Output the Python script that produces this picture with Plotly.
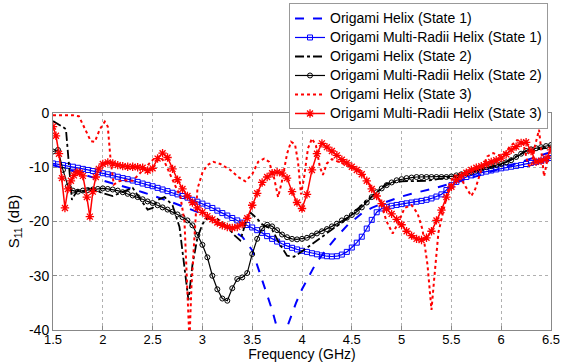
import numpy as np
import plotly.graph_objects as go

# ---------------- data ----------------
# Origami Helix (State 1) - blue dashed
x_h1 = [1.5, 1.6, 1.7, 1.8, 1.9, 2.0, 2.1, 2.2, 2.3, 2.4, 2.5, 2.6, 2.7, 2.8, 2.9, 3.0,
        3.1, 3.2, 3.3, 3.4, 3.5, 3.6, 3.7, 3.77, 3.85, 3.94, 4.0, 4.14, 4.25, 4.35, 4.46,
        4.6, 4.7, 4.8, 4.9, 5.0, 5.1, 5.2, 5.3, 5.4, 5.5, 5.6, 5.7, 5.8, 5.9, 6.0, 6.1,
        6.2, 6.3, 6.4, 6.5]
y_h1 = [-9.6, -10.1, -10.7, -11.3, -11.9, -12.4, -13.0, -13.5, -14.0, -14.6, -15.2, -15.8,
        -16.5, -17.2, -17.9, -18.6, -19.6, -20.6, -21.6, -22.8, -25.3, -30.8, -36.3, -41.0,
        -39.5, -35.0, -32.5, -27.7, -25.0, -22.8, -20.6, -18.5, -17.5, -16.7, -16.0, -15.4,
        -14.9, -14.5, -14.0, -13.5, -13.0, -12.5, -12.0, -11.4, -10.8, -10.2, -9.6, -9.0,
        -8.3, -7.7, -7.2]

# Origami Multi-Radii Helix (State 1) - blue squares
x_m1 = list(np.round(np.linspace(1.5, 6.5, 101), 2))
y_m1 = [-9.3, -9.45, -9.6, -9.75, -9.9, -10.1, -10.3, -10.5, -10.7, -10.9,
        -11.1, -11.3, -11.5, -11.75, -12.0, -12.2, -12.45, -12.7, -13.0, -13.25,
        -13.5, -13.8, -14.1, -14.4, -14.7, -15.0, -15.3, -15.6, -16.0, -16.35,
        -16.7, -17.1, -17.5, -18.0, -18.45, -18.9, -19.35, -19.8, -20.2, -20.65,
        -21.1, -21.6, -22.1, -22.7, -23.2, -23.7, -24.1, -24.5, -24.85, -25.15,
        -25.4, -25.6, -25.85, -26.05, -26.25, -26.4, -26.45, -26.4, -26.1, -25.6,
        -24.8, -23.9, -22.8, -21.3, -19.7, -18.3, -17.6, -17.3, -17.1, -16.95,
        -16.8, -16.65, -16.5, -16.35, -16.2, -16.0, -15.75, -15.4, -15.0, -14.2,
        -13.3, -12.7, -12.2, -11.8, -11.5, -11.2, -11.0, -10.8, -10.6, -10.4,
        -10.2, -10.05, -9.9, -9.75, -9.6, -9.4, -9.2, -9.0, -8.8, -8.55, -8.3]

# Origami Helix (State 2) - black dash-dot
x_h2 = [1.5, 1.55, 1.6, 1.63, 1.66, 1.69, 1.72, 1.75, 1.8, 1.85, 1.9, 2.0, 2.1, 2.2, 2.3,
        2.4, 2.45, 2.5, 2.55, 2.62, 2.7, 2.77, 2.82, 2.86, 2.9, 2.95, 3.0, 3.05, 3.15, 3.25,
        3.32, 3.38, 3.43, 3.48, 3.55, 3.6, 3.7, 3.78, 3.85, 3.92, 4.0, 4.15, 4.3, 4.45, 4.6,
        4.75, 4.85, 5.0, 5.25, 5.5, 5.75, 6.0, 6.25, 6.5]
y_h2 = [-1.5, -2.0, -2.6, -3.0, -10.0, -16.0, -15.0, -14.2, -14.5, -14.0, -14.0, -14.8,
        -15.3, -14.5, -13.8, -16.5, -17.8, -17.5, -16.0, -15.5, -17.0, -21.0, -28.0, -34.5,
        -28.0, -23.0, -20.5, -19.3, -19.5, -21.0, -22.5, -23.5, -20.5, -18.3, -19.5, -20.5,
        -21.5, -24.3, -26.3, -26.5, -25.5, -23.5, -21.5, -19.5, -17.0, -14.6, -13.0, -12.6,
        -12.5, -11.8, -10.7, -9.5, -7.0, -6.3]

# Origami Multi-Radii Helix (State 2) - black circles
x_m2 = list(np.round(np.linspace(1.5, 6.5, 101), 2))
y_m2 = [-7.1, -6.8, -10.5, -13.5, -14.3, -14.5, -14.3, -14.2, -14.1, -14.0,
        -13.9, -14.0, -14.1, -14.3, -14.6, -14.9, -15.2, -15.5, -15.9, -16.3,
        -16.6, -17.0, -17.4, -17.8, -18.2, -18.7, -19.2, -19.8, -20.7, -22.5,
        -24.3, -26.6, -30.0, -32.5, -34.2, -34.6, -32.3, -30.6, -30.3, -29.5,
        -26.0, -23.2, -21.3, -20.6, -20.9, -21.6, -22.4, -22.9, -23.2, -23.3,
        -23.2, -23.0, -22.6, -22.2, -21.8, -21.4, -20.9, -20.4, -19.8, -19.3,
        -18.8, -18.2, -17.4, -16.5, -15.5, -14.6, -13.9, -13.3, -12.8, -12.4,
        -12.2, -12.0, -11.9, -11.8, -11.8, -11.8, -11.8, -11.8, -11.8, -11.8,
        -11.7, -11.5, -11.3, -11.1, -10.9, -10.6, -10.3, -10.0, -9.8, -9.6,
        -9.4, -9.1, -8.7, -8.1, -7.5, -7.0, -6.7, -6.5, -6.3, -6.1, -5.9]

# Origami Helix (State 3) - red dotted
x_h3 = [1.5, 1.6, 1.7, 1.76, 1.82, 1.88, 1.92, 1.97, 2.02, 2.05, 2.08, 2.11, 2.16, 2.22,
        2.3, 2.37, 2.45, 2.52, 2.57, 2.62, 2.67, 2.72, 2.78, 2.82, 2.85, 2.87, 2.89, 2.92,
        2.95, 3.0, 3.05, 3.11, 3.18, 3.28, 3.36, 3.43, 3.5, 3.56, 3.62, 3.67, 3.72, 3.76,
        3.8, 3.85, 3.89, 3.93, 3.96, 3.99, 4.02, 4.06, 4.1, 4.14, 4.18, 4.21, 4.25, 4.3,
        4.4, 4.5, 4.58, 4.66, 4.72, 4.78, 4.85, 4.91, 4.96, 5.03, 5.1, 5.16, 5.21, 5.26,
        5.3, 5.33, 5.37, 5.42, 5.47, 5.52, 5.58, 5.64, 5.7, 5.74, 5.8, 5.86, 5.92, 5.98,
        6.04, 6.1, 6.16, 6.22, 6.27, 6.3, 6.34, 6.38, 6.41, 6.43, 6.46, 6.5]
y_h3 = [-0.4, -0.4, -0.4, -0.6, -2.8, -5.2, -5.3, -3.0, -1.6, -2.5, -9.0, -13.2, -12.6,
        -12.4, -12.5, -11.1, -9.5, -8.3, -8.0, -9.0, -11.1, -13.0, -15.5, -20.0, -32.0,
        -42.0, -32.0, -22.0, -14.0, -11.0, -9.6, -9.0, -9.4, -10.5, -11.8, -12.6, -11.3,
        -9.0, -8.4, -9.0, -12.0, -15.5, -12.5, -7.5, -5.3, -5.8, -9.0, -15.0, -12.0, -6.5,
        -4.7, -6.0, -10.0, -11.4, -9.3, -8.5, -9.3, -10.0, -10.6, -12.5, -14.5, -16.0,
        -20.0, -22.2, -20.5, -17.5, -17.0, -18.5, -21.5, -28.0, -36.3, -30.0, -22.0, -18.0,
        -14.0, -11.5, -11.5, -13.5, -15.3, -14.0, -10.5, -8.0, -7.4, -7.8, -7.3, -6.0,
        -5.0, -5.5, -9.5, -10.0, -6.0, -3.1, -8.0, -11.7, -9.0, -7.5]

# Origami Multi-Radii Helix (State 3) - red stars
x_m3 = [1.5, 1.53, 1.56, 1.59, 1.62, 1.65, 1.68, 1.71, 1.74, 1.77, 1.8, 1.84, 1.87, 1.9,
        1.93, 1.96, 2.0, 2.05, 2.1, 2.15, 2.2, 2.25, 2.3, 2.35, 2.4, 2.45, 2.5, 2.55, 2.6,
        2.65, 2.7, 2.75, 2.8, 2.85, 2.9, 2.95, 3.0, 3.05, 3.1, 3.15, 3.2, 3.25, 3.3, 3.35,
        3.4, 3.45, 3.5, 3.55, 3.6, 3.65, 3.7, 3.75, 3.8, 3.85, 3.9, 3.95, 4.0, 4.05, 4.1,
        4.15, 4.2, 4.25, 4.3, 4.35, 4.4, 4.45, 4.5, 4.55, 4.6, 4.65, 4.7, 4.75, 4.8, 4.85,
        4.9, 4.95, 5.0, 5.05, 5.1, 5.15, 5.2, 5.25, 5.3, 5.35, 5.4, 5.45, 5.5, 5.55, 5.6,
        5.65, 5.7, 5.75, 5.8, 5.85, 5.9, 5.95, 6.0, 6.05, 6.1, 6.15, 6.2, 6.25, 6.3, 6.35,
        6.4, 6.45, 6.5]
y_m3 = [-2.5, -4.2, -7.5, -12.0, -17.5, -14.0, -12.5, -11.5, -10.9, -11.0, -11.6, -15.5,
        -19.1, -14.5, -11.8, -10.3, -9.4, -9.1, -9.3, -9.6, -9.8, -9.9, -9.9, -10.0, -10.1,
        -10.6, -10.2, -8.4, -7.4, -8.2, -10.3, -12.3, -14.0, -15.3, -16.5, -17.5, -18.3,
        -19.0, -19.6, -20.2, -20.7, -21.0, -21.2, -21.0, -20.5, -19.4, -17.0, -14.8, -12.8,
        -11.8, -11.1, -10.9, -11.1, -12.0, -14.5, -16.5, -17.6, -15.0, -10.5, -7.5, -5.6,
        -6.3, -7.0, -7.8, -8.6, -9.2, -9.9, -10.5, -11.3, -12.5, -14.0, -15.3, -16.7, -17.7,
        -18.6, -19.6, -20.6, -21.8, -22.6, -23.2, -23.4, -23.0, -21.8, -19.8, -17.9, -15.5,
        -13.6, -12.3, -11.6, -11.0, -10.5, -10.1, -9.8, -9.4, -9.0, -8.7, -8.3, -7.6, -6.8,
        -6.2, -5.5, -5.4, -7.0, -9.0, -8.8, -8.4, -6.8]

x_ticks = [1.5, 2, 2.5, 3, 3.5, 4, 4.5, 5, 5.5, 6, 6.5]
x_ticktext = ["1.5", "2", "2.5", "3", "3.5", "4", "4.5", "5", "5.5", "6", "6.5"]
y_ticks = [0, -10, -20, -30, -40]
y_ticktext = ["0", "-10", "-20", "-30", "-40"]

names = ["Origami Helix (State 1)", "Origami Multi-Radii Helix (State 1)",
         "Origami Helix (State 2)", "Origami Multi-Radii Helix (State 2)",
         "Origami Helix (State 3)", "Origami Multi-Radii Helix (State 3)"]

# ---------------- figure ----------------
BLUE = "#0000ff"
RED = "#ff0000"
BLACK = "#000000"


def lg(name):
    return '<span style="font-size:14px">' + name + "</span>"


fig = go.Figure()
fig.add_trace(go.Scatter(x=x_h1, y=y_h1, mode="lines", name=lg(names[0]),
                         line=dict(color=BLUE, width=2, dash="dash")))
fig.add_trace(go.Scatter(x=x_m1, y=y_m1, mode="lines+markers", name=lg(names[1]),
                         line=dict(color=BLUE, width=1.2),
                         marker=dict(symbol="square-open", size=5, color=BLUE,
                                     line=dict(width=1, color=BLUE))))
fig.add_trace(go.Scatter(x=x_h2, y=y_h2, mode="lines", name=lg(names[2]),
                         line=dict(color=BLACK, width=1.8, dash="dashdot")))
fig.add_trace(go.Scatter(x=x_m2, y=y_m2, mode="lines+markers", name=lg(names[3]),
                         line=dict(color=BLACK, width=1.2),
                         marker=dict(symbol="circle-open", size=5, color=BLACK,
                                     line=dict(width=1, color=BLACK))))
fig.add_trace(go.Scatter(x=x_h3, y=y_h3, mode="lines", name=lg(names[4]),
                         line=dict(color=RED, width=2, dash="dot")))
fig.add_trace(go.Scatter(x=x_m3, y=y_m3, mode="lines+markers", name=lg(names[5]),
                         line=dict(color=RED, width=1.5),
                         marker=dict(symbol="asterisk-open", size=7, color=RED,
                                     line=dict(width=1.3, color=RED))))

FONT = "Arial, Liberation Sans, sans-serif"
fig.update_layout(
    width=562, height=362,
    margin=dict(l=53, r=11, t=113, b=32, autoexpand=False),
    paper_bgcolor="white", plot_bgcolor="white",
    font=dict(family=FONT, size=14, color="black"),
    showlegend=True,
    legend=dict(x=0.994, y=1.507, xanchor="right", yanchor="top",
                bgcolor="white", bordercolor="#999999", borderwidth=1,
                font=dict(family=FONT, size=11, color="black"),
                itemwidth=30, tracegroupgap=0),
)
fig.update_xaxes(range=[1.5, 6.5], tickvals=x_ticks, ticktext=x_ticktext,
                 tickfont=dict(family=FONT, size=13), ticklabelstandoff=-3,
                 showgrid=True, gridcolor="#b0b0b0", griddash="dot", gridwidth=1,
                 showline=True, linecolor="#888888", mirror=True, linewidth=1,
                 ticks="inside", ticklen=4, tickcolor="#888888", zeroline=False,
                 title=dict(text="Frequency (GHz)", standoff=4,
                            font=dict(family=FONT, size=14)))
fig.update_yaxes(range=[-40, 0], tickvals=y_ticks, ticktext=y_ticktext,
                 tickfont=dict(family=FONT, size=14),
                 showgrid=True, gridcolor="#b0b0b0", griddash="dot", gridwidth=1,
                 showline=True, linecolor="#888888", mirror=True, linewidth=1,
                 ticks="inside", ticklen=4, tickcolor="#888888", zeroline=False,
                 title=dict(text="S<sub>11</sub> (dB)", standoff=5,
                            font=dict(family=FONT, size=15)))

fig.write_html("out.html",
               config={"displayModeBar": False},
               post_script="document.body.style.margin='0px';"
                           "document.body.style.overflow='hidden';")
